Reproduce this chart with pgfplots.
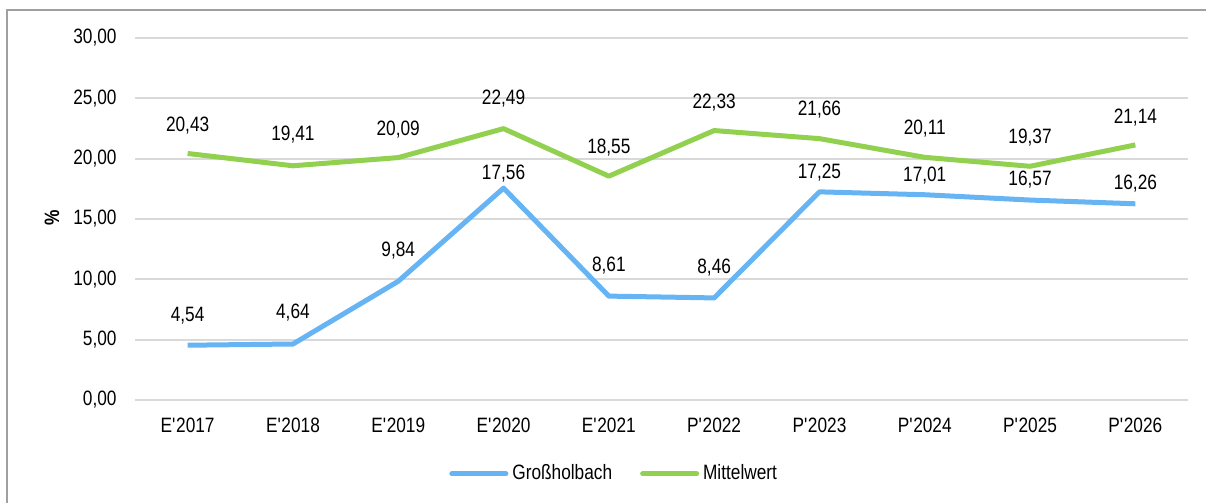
\documentclass[border=0pt]{standalone}
\usepackage{pgfplots}
\pgfplotsset{compat=1.18}
\usepackage{pgfplotstable}
\usepackage{fontspec}
\setmainfont{Liberation Sans}[FakeStretch=0.83]
\definecolor{cblue}{RGB}{102,180,243}
\definecolor{cgreen}{RGB}{146,208,80}
\definecolor{cgrid}{RGB}{217,217,217}
\definecolor{cframe}{RGB}{160,160,160}

\pgfplotstableread{
x y off
0 4.54 15
1 4.64 15.5
2 9.84 15.5
3 17.56 7.5
4 8.61 15.5
5 8.46 15
6 17.25 9.5
7 17.01 9.5
8 16.57 10
9 16.26 10
}\groszholbach

\pgfplotstableread{
x y off
0 20.43 14
1 19.41 15.5
2 20.09 14
3 22.49 15
4 18.55 14.5
5 22.33 14
6 21.66 14.5
7 20.11 14.5
8 19.37 14.5
9 21.14 13.5
}\mittelwert

\begin{document}
\fontsize{10.4bp}{12bp}\selectfont
\begin{tikzpicture}
\begin{axis}[
  at={(0,0)}, anchor=south west,
  scale only axis,
  width=526.5bp, height=181bp,
  xmin=-0.5, xmax=9.5,
  ymin=0, ymax=30,
  enlargelimits=false,
  xtick={0,...,9},
  xticklabels={E\textquotesingle2017,E\textquotesingle2018,E\textquotesingle2019,E\textquotesingle2020,E\textquotesingle2021,P\textquotesingle2022,P\textquotesingle2023,P\textquotesingle2024,P\textquotesingle2025,P\textquotesingle2026},
  ytick={0,5,...,30},
  major tick length=0pt,
  axis line style={draw=none},
  tick style={draw=none},
  ymajorgrids,
  grid style={cgrid, line width=1bp},
  /pgf/number format/.cd, fixed, fixed zerofill, precision=2, use comma, 1000 sep={}, assume math mode=true,
  /pgfplots/.cd,
  yticklabel style={anchor=east, inner sep=0pt, xshift=-9bp},
  xticklabel style={anchor=north, inner sep=0pt, yshift=-9bp},
  ylabel={\textbf{\%}},
  ylabel style={at={(axis description cs:-0.0788,0.503)}, anchor=center},
  legend columns=2,
  legend style={at={(axis description cs:0.456,-0.204)}, anchor=center, draw=none, fill=none,
    /tikz/every even column/.append style={column sep=12bp}, inner sep=0pt},
  legend cell align=left,
  legend image code/.code={\draw[#1, line width=2.5bp, line cap=round] (0bp,0bp) -- (27bp,0bp);},
  nodes near coords,
  visualization depends on={\thisrow{off}\as\myoff},
  every node near coord/.append style={anchor=center, yshift=\myoff bp, text=black, inner sep=0pt},
]
\addplot[cblue, line width=2.5bp, line join=round, mark=none] table[x=x, y=y] {\groszholbach};
\addlegendentry{Großholbach}
\addplot[cgreen, line width=2.5bp, line join=round, mark=none] table[x=x, y=y] {\mittelwert};
\addlegendentry{Mittelwert}
\end{axis}
\draw[cframe, line width=0.9bp] (545bp,195bp) -- (-64bp,195bp) -- (-64bp,-70bp);
\pgfresetboundingbox
\path[use as bounding box] (-67.5bp,-51.5bp) rectangle (535.5bp,200bp);
\end{tikzpicture}
\end{document}
